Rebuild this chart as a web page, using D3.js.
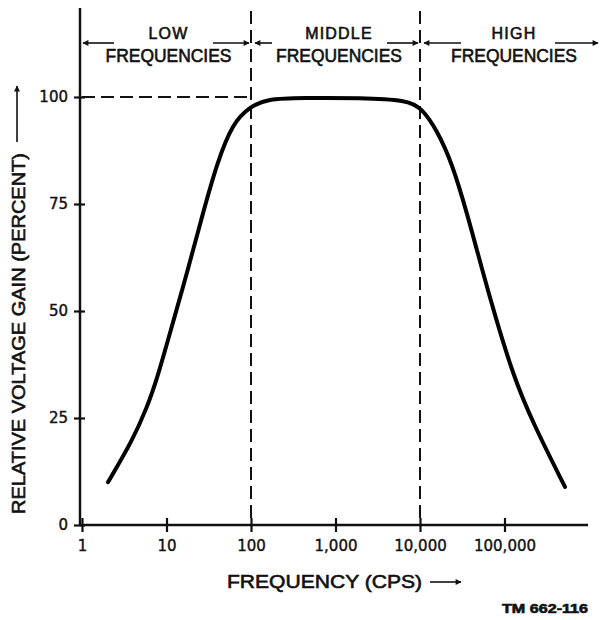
<!DOCTYPE html>
<html>
<head>
<meta charset="utf-8">
<script src="https://cdn.jsdelivr.net/npm/d3@7"></script>
<style>
  body { margin: 0; background: #fff; }
  svg text.lab { font-family: "Liberation Sans", Arial, sans-serif; fill: #111; stroke: #111; stroke-width: 0.6; }
  svg .tick text { font-family: "DejaVu Sans", sans-serif; font-size: 15px; fill: #111; stroke: #111; stroke-width: 0.4; }
</style>
</head>
<body>
<svg id="chart" width="600" height="620"></svg>
<script>
// frequency (cps) and relative voltage gain (percent)
const freq = [2.03, 4.0, 5.9, 7.7, 13, 17.5, 27, 39.6, 61, 97, 155, 400, 2000, 7000, 10500, 15800, 23900, 36000, 55700, 74600, 126000, 217000, 520000];
const gain = [10, 19.9, 27.6, 33.9, 50, 58.9, 72.9, 84.6, 94, 97.7, 99.6, 99.8, 99.8, 99.3, 97.4, 92.3, 84.6, 72.9, 58.9, 50, 35, 23.8, 8.9];

const xTicks = [1, 10, 100, 1000, 10000, 100000];
const xTickLabels = ["1", "10", "100", "1,000", "10,000", "100,000"];
const yTicks = [0, 25, 50, 75, 100];

const bands = [
  {from: 1, to: 100, lines: ["LOW", "FREQUENCIES"]},
  {from: 100, to: 10000, lines: ["MIDDLE", "FREQUENCIES"]},
  {from: 10000, to: 1e6, lines: ["HIGH", "FREQUENCIES"]}
];

const svg = d3.select("#chart");

const x = d3.scaleLog().domain([1, 1e6]).range([82, 589]);
const y = d3.scaleLinear().domain([0, 100]).range([525, 97]);

// arrow marker
const defs = svg.append("defs");
defs.append("marker")
  .attr("id", "arrow")
  .attr("viewBox", "0 0 10 10")
  .attr("refX", 9).attr("refY", 5)
  .attr("markerWidth", 11).attr("markerHeight", 6)
  .attr("markerUnits", "userSpaceOnUse")
  .attr("orient", "auto-start-reverse")
  .append("path").attr("d", "M0,0 L10,5 L0,10 z").attr("fill", "#111");

// axes
const xAxis = svg.append("g")
  .attr("transform", `translate(0,${y(0)})`)
  .call(d3.axisBottom(x).tickValues(xTicks).tickFormat((d, i) => xTickLabels[i]).tickSize(7).tickPadding(8));
xAxis.select(".domain").remove();
xAxis.selectAll(".tick line").attr("y1", -7).attr("stroke", "#111").attr("stroke-width", 2.2);
svg.append("line")
  .attr("x1", 80).attr("x2", 588).attr("y1", y(0)).attr("y2", y(0))
  .attr("stroke", "#111").attr("stroke-width", 2.5);

const yAxis = svg.append("g")
  .attr("transform", `translate(80,0)`)
  .call(d3.axisLeft(y).tickValues(yTicks).tickSize(6).tickPadding(6));
yAxis.select(".domain").remove();
yAxis.selectAll(".tick line").attr("x2", 5).attr("x1", -6).attr("stroke", "#111").attr("stroke-width", 2.2);
svg.append("line")
  .attr("x1", 80).attr("x2", 80).attr("y1", 8).attr("y2", y(0) + 1)
  .attr("stroke", "#111").attr("stroke-width", 2.5);

// dashed guide lines
[100, 10000].forEach(f => {
  svg.append("line")
    .attr("x1", x(f)).attr("x2", x(f)).attr("y1", 11).attr("y2", y(0))
    .attr("stroke", "#111").attr("stroke-width", 2).attr("stroke-dasharray", "13,6");
});
svg.append("line")
  .attr("x1", 82).attr("x2", x(100)).attr("y1", y(100)).attr("y2", y(100))
  .attr("stroke", "#111").attr("stroke-width", 2.2).attr("stroke-dasharray", "13,6");

// band labels with arrows
const arrowY = 43;
const labelGap = [[31, 36], [17, 31], [37, 43]];
bands.forEach((b, i) => {
  const x0 = x(b.from) + (i === 0 ? 1 : 4);
  const x1 = i === 2 ? 598 : x(b.to) - 2;
  const cx = i === 2 ? 514 : (i === 1 ? 339 : x(Math.sqrt(b.from * b.to)) + 2);
  const half = 63;
  svg.append("line")
    .attr("x1", x0 + labelGap[i][0]).attr("x2", x0).attr("y1", arrowY).attr("y2", arrowY)
    .attr("stroke", "#111").attr("stroke-width", 1.6).attr("marker-end", "url(#arrow)");
  svg.append("line")
    .attr("x1", x1 - labelGap[i][1]).attr("x2", x1).attr("y1", arrowY).attr("y2", arrowY)
    .attr("stroke", "#111").attr("stroke-width", 1.6).attr("marker-end", "url(#arrow)");
  svg.append("text").attr("class", "lab").attr("x", cx).attr("y", 39).attr("text-anchor", "middle")
    .attr("font-size", 16).attr("letter-spacing", 1.2).text(b.lines[0]);
  svg.append("text").attr("class", "lab").attr("x", cx - half).attr("y", 62)
    .attr("font-size", 18).attr("textLength", 2 * half).attr("lengthAdjust", "spacingAndGlyphs").text(b.lines[1]);
});

// response curve
const line = d3.line()
  .x((d, i) => x(freq[i]))
  .y(d => y(d))
  .curve(d3.curveBasis);
svg.append("path")
  .datum(gain)
  .attr("fill", "none")
  .attr("stroke", "#000")
  .attr("stroke-width", 4)
  .attr("stroke-linecap", "round")
  .attr("d", line);

// axis titles
svg.append("text").attr("class", "lab").attr("x", 227).attr("y", 588)
  .attr("font-size", 18).attr("textLength", 195).attr("lengthAdjust", "spacingAndGlyphs")
  .text("FREQUENCY (CPS)");
svg.append("line")
  .attr("x1", 430).attr("x2", 461).attr("y1", 582).attr("y2", 582)
  .attr("stroke", "#111").attr("stroke-width", 1.6).attr("marker-end", "url(#arrow)");

svg.append("text").attr("class", "lab")
  .attr("transform", "translate(25,514) rotate(-90)")
  .attr("font-size", 18).attr("textLength", 361).attr("lengthAdjust", "spacingAndGlyphs")
  .text("RELATIVE VOLTAGE GAIN (PERCENT)");
svg.append("line")
  .attr("x1", 17).attr("x2", 17).attr("y1", 142).attr("y2", 86)
  .attr("stroke", "#111").attr("stroke-width", 1.6).attr("marker-end", "url(#arrow)");

svg.append("text").attr("class", "lab").attr("x", 502).attr("y", 613)
  .attr("font-size", 12).attr("textLength", 86).attr("lengthAdjust", "spacingAndGlyphs")
  .attr("font-weight", "bold").attr("stroke-width", 0.2)
  .text("TM 662-116");
</script>
</body>
</html>
